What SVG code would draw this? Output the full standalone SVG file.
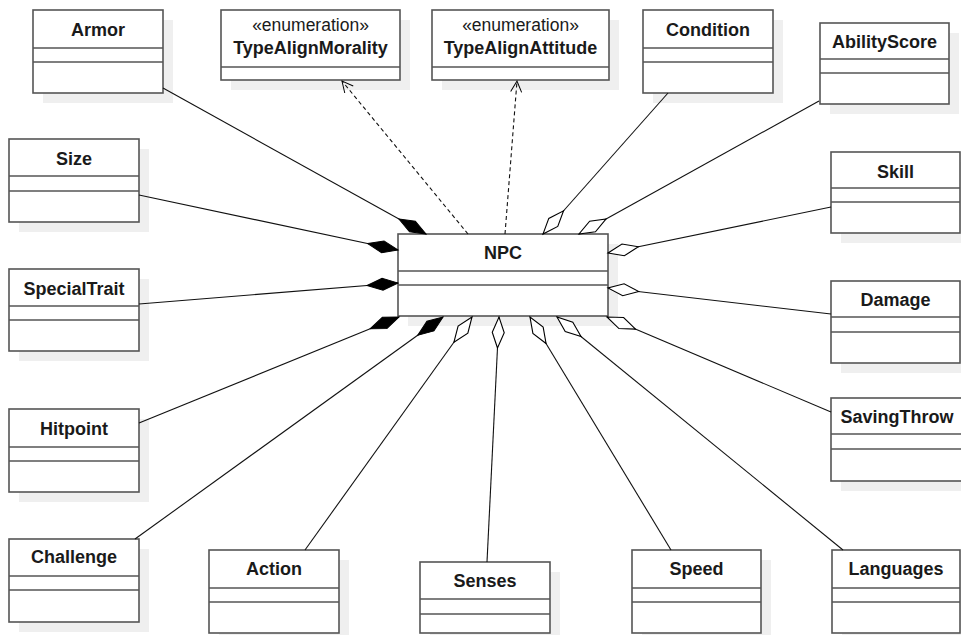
<svg xmlns="http://www.w3.org/2000/svg" width="961" height="635" viewBox="0 0 961 635">
<defs>
<style>
.sh{fill:#efefef;stroke:none}
.bx{fill:#fff;stroke:#555;stroke-width:1.6}
.dv{stroke:#555;stroke-width:1.6}
.t{font-family:"Liberation Sans",Arial,sans-serif;font-size:18px;font-weight:bold;fill:#1a1a1a;text-anchor:middle}
.st{font-family:"Liberation Sans",Arial,sans-serif;font-size:17.5px;fill:#1a1a1a;text-anchor:middle}
.ln{stroke:#111;stroke-width:1.1;fill:none}
.fc{marker-end:url(#filled)}
.oc{marker-end:url(#open)}
.dp{stroke-dasharray:4,3;marker-end:url(#arrow)}
</style>
<marker id="filled" markerUnits="userSpaceOnUse" markerWidth="34" markerHeight="16" viewBox="-1 -8 34 16" refX="31" refY="0" orient="auto">
<path d="M0,0 L15.5,-6 L31,0 L15.5,6 Z" fill="#000" stroke="#000" stroke-width="1"/>
</marker>
<marker id="open" markerUnits="userSpaceOnUse" markerWidth="34" markerHeight="16" viewBox="-1 -8 34 16" refX="31" refY="0" orient="auto">
<path d="M0,0 L15.5,-6 L31,0 L15.5,6 Z" fill="#fff" stroke="#000" stroke-width="1.1"/>
</marker>
<marker id="arrow" markerUnits="userSpaceOnUse" markerWidth="14" markerHeight="14" viewBox="-12 -7 14 14" refX="0" refY="0" orient="auto">
<path d="M-11,-5.5 L0,0 L-11,5.5" fill="none" stroke="#000" stroke-width="1"/>
</marker>
</defs>
<rect width="961" height="635" fill="#fff"/>

<g id="Armor">
<rect class="sh" x="43" y="20" width="130" height="83"/>
<rect class="bx" x="33" y="10" width="130" height="83"/>
<line class="dv" x1="33" y1="48" x2="163" y2="48"/><line class="dv" x1="33" y1="62" x2="163" y2="62"/>
<text class="t" x="98" y="36">Armor</text>
</g>
<g id="TypeAlignMorality">
<rect class="sh" x="231" y="20" width="179" height="70"/>
<rect class="bx" x="221" y="10" width="179" height="70"/>
<line class="dv" x1="221" y1="67" x2="400" y2="67"/>
<text class="st" x="310.5" y="31">«enumeration»</text>
<text class="t" x="310.5" y="54">TypeAlignMorality</text>
</g>
<g id="TypeAlignAttitude">
<rect class="sh" x="442" y="20" width="177" height="70"/>
<rect class="bx" x="432" y="10" width="177" height="70"/>
<line class="dv" x1="432" y1="67" x2="609" y2="67"/>
<text class="st" x="520.5" y="31">«enumeration»</text>
<text class="t" x="520.5" y="54">TypeAlignAttitude</text>
</g>
<g id="Condition">
<rect class="sh" x="653" y="20" width="130" height="83"/>
<rect class="bx" x="643" y="10" width="130" height="83"/>
<line class="dv" x1="643" y1="48" x2="773" y2="48"/><line class="dv" x1="643" y1="62" x2="773" y2="62"/>
<text class="t" x="708" y="36">Condition</text>
</g>
<g id="AbilityScore">
<rect class="sh" x="830" y="33" width="129" height="81"/>
<rect class="bx" x="820" y="23" width="129" height="81"/>
<line class="dv" x1="820" y1="59" x2="949" y2="59"/><line class="dv" x1="820" y1="73" x2="949" y2="73"/>
<text class="t" x="884.5" y="48">AbilityScore</text>
</g>
<g id="Size">
<rect class="sh" x="19" y="149" width="130" height="83"/>
<rect class="bx" x="9" y="139" width="130" height="83"/>
<line class="dv" x1="9" y1="176" x2="139" y2="176"/><line class="dv" x1="9" y1="191" x2="139" y2="191"/>
<text class="t" x="74" y="165">Size</text>
</g>
<g id="Skill">
<rect class="sh" x="841" y="162" width="130" height="81"/>
<rect class="bx" x="831" y="152" width="129" height="81"/>
<line class="dv" x1="831" y1="188" x2="960" y2="188"/><line class="dv" x1="831" y1="202" x2="960" y2="202"/>
<text class="t" x="895.5" y="178">Skill</text>
</g>
<g id="SpecialTrait">
<rect class="sh" x="19" y="279" width="130" height="82"/>
<rect class="bx" x="9" y="269" width="130" height="82"/>
<line class="dv" x1="9" y1="306" x2="139" y2="306"/><line class="dv" x1="9" y1="320" x2="139" y2="320"/>
<text class="t" x="74" y="295">SpecialTrait</text>
</g>
<g id="NPC">
<rect class="sh" x="408" y="244" width="210" height="82"/>
<rect class="bx" x="398" y="234" width="210" height="82"/>
<line class="dv" x1="398" y1="271" x2="608" y2="271"/><line class="dv" x1="398" y1="285" x2="608" y2="285"/>
<text class="t" x="503" y="259">NPC</text>
</g>
<g id="Damage">
<rect class="sh" x="841" y="291" width="130" height="82"/>
<rect class="bx" x="831" y="281" width="129" height="82"/>
<line class="dv" x1="831" y1="317" x2="960" y2="317"/><line class="dv" x1="831" y1="332" x2="960" y2="332"/>
<text class="t" x="895.5" y="306">Damage</text>
</g>
<g id="Hitpoint">
<rect class="sh" x="19" y="419" width="130" height="83"/>
<rect class="bx" x="9" y="409" width="130" height="83"/>
<line class="dv" x1="9" y1="447" x2="139" y2="447"/><line class="dv" x1="9" y1="461" x2="139" y2="461"/>
<text class="t" x="74" y="435">Hitpoint</text>
</g>
<g id="SavingThrow">
<rect class="sh" x="841" y="408" width="130" height="83"/>
<rect class="bx" x="831" y="398" width="131" height="83"/>
<line class="dv" x1="831" y1="434" x2="961" y2="434"/><line class="dv" x1="831" y1="449" x2="961" y2="449"/>
<text class="t" x="897" y="423">SavingThrow</text>
</g>
<g id="Challenge">
<rect class="sh" x="19" y="549" width="130" height="83"/>
<rect class="bx" x="9" y="539" width="130" height="83"/>
<line class="dv" x1="9" y1="576" x2="139" y2="576"/><line class="dv" x1="9" y1="590" x2="139" y2="590"/>
<text class="t" x="74" y="563">Challenge</text>
</g>
<g id="Action">
<rect class="sh" x="219" y="560" width="130" height="83"/>
<rect class="bx" x="209" y="550" width="130" height="83"/>
<line class="dv" x1="209" y1="588" x2="339" y2="588"/><line class="dv" x1="209" y1="602" x2="339" y2="602"/>
<text class="t" x="274" y="575">Action</text>
</g>
<g id="Senses">
<rect class="sh" x="430" y="572" width="130" height="71"/>
<rect class="bx" x="420" y="562" width="130" height="71"/>
<line class="dv" x1="420" y1="599" x2="550" y2="599"/><line class="dv" x1="420" y1="614" x2="550" y2="614"/>
<text class="t" x="485" y="587">Senses</text>
</g>
<g id="Speed">
<rect class="sh" x="642" y="560" width="129" height="83"/>
<rect class="bx" x="632" y="550" width="129" height="83"/>
<line class="dv" x1="632" y1="588" x2="761" y2="588"/><line class="dv" x1="632" y1="602" x2="761" y2="602"/>
<text class="t" x="696.5" y="575">Speed</text>
</g>
<g id="Languages">
<rect class="sh" x="842" y="560" width="128" height="83"/>
<rect class="bx" x="832" y="550" width="128" height="83"/>
<line class="dv" x1="832" y1="588" x2="960" y2="588"/><line class="dv" x1="832" y1="602" x2="960" y2="602"/>
<text class="t" x="896" y="575">Languages</text>
</g>

<g id="connectors">
<line class="ln fc" x1="163" y1="88" x2="426" y2="234"/>
<line class="ln fc" x1="139" y1="195" x2="398" y2="250"/>
<line class="ln fc" x1="139" y1="304" x2="398" y2="283"/>
<line class="ln fc" x1="139" y1="423" x2="399" y2="317"/>
<line class="ln fc" x1="135" y1="539" x2="443" y2="317"/>
<line class="ln oc" x1="305" y1="550" x2="472" y2="317"/>
<line class="ln oc" x1="487" y1="562" x2="499" y2="317"/>
<line class="ln oc" x1="671" y1="550" x2="530" y2="317"/>
<line class="ln oc" x1="843" y1="550" x2="557" y2="317"/>
<line class="ln oc" x1="831" y1="412" x2="607" y2="317"/>
<line class="ln oc" x1="831" y1="314" x2="608" y2="288"/>
<line class="ln oc" x1="831" y1="207" x2="608" y2="253"/>
<line class="ln oc" x1="819" y1="101" x2="579" y2="234"/>
<line class="ln oc" x1="668" y1="93" x2="543" y2="234"/>
<line class="ln dp" x1="468" y1="234" x2="342" y2="81"/>
<line class="ln dp" x1="505" y1="234" x2="517" y2="81"/>
</g>
</svg>
